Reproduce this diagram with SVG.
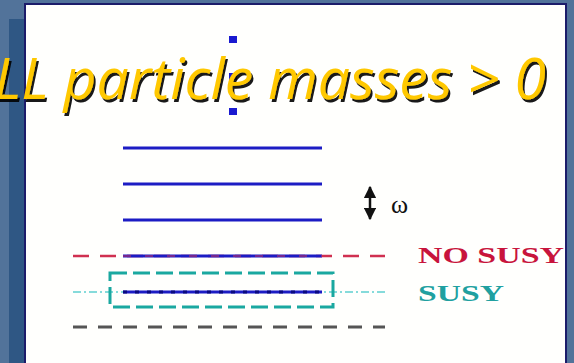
<svg xmlns="http://www.w3.org/2000/svg" width="574" height="363" viewBox="0 0 574 363">
<defs>
<style>
.lvl{stroke:#1c1cc4;stroke-width:3;fill:none}
.title{font-family:"Open Sans","Liberation Sans",sans-serif;font-style:italic;font-size:56px}
.lab{font-family:"Liberation Serif","DejaVu Serif",serif;font-size:23px;font-weight:bold}
.handle{fill:#1a1ad0}
</style>
<filter id="shadow" x="-5%" y="-20%" width="110%" height="150%">
<feDropShadow dx="2" dy="3" stdDeviation="0.6" flood-color="#000" flood-opacity="0.9"/>
</filter>
<marker id="ah" viewBox="0 0 10 10" refX="9" refY="5" markerWidth="5" markerHeight="5" orient="auto-start-reverse">
<path d="M0,0 L10,5 L0,10 z" fill="#111"/>
</marker>
</defs>
<rect x="0" y="0" width="574" height="363" fill="#52739a"/>
<rect x="9" y="19" width="17" height="344" fill="#2f5784"/>
<rect x="25" y="4" width="541" height="362" fill="#fffffd" stroke="#1c1c6a" stroke-width="2"/>
<g id="handles">
<rect class="handle" x="229" y="36" width="8" height="7"/>
<rect class="handle" x="229" y="73" width="8" height="7"/>
<rect class="handle" x="229" y="108" width="8" height="7"/>
</g>
<g id="title">
<text class="title" x="-6" y="99" textLength="552" lengthAdjust="spacingAndGlyphs" fill="#ffc800" filter="url(#shadow)">LL particle masses &gt; 0</text>
</g>
<g id="connectors">
<line class="lvl" x1="123" y1="148" x2="322" y2="148"/>
<line class="lvl" x1="123" y1="184" x2="322" y2="184"/>
<line class="lvl" x1="123" y1="220" x2="322" y2="220"/>
<line x1="73" y1="256" x2="385" y2="256" stroke="#d03050" stroke-width="2.5" stroke-dasharray="16,11"/>
<line class="lvl" x1="123" y1="256" x2="322" y2="256"/>
<line x1="123" y1="256" x2="322" y2="256" stroke="#c83060" stroke-width="1.5" stroke-dasharray="8,14" opacity="0.7"/>
<line x1="73" y1="292" x2="385" y2="292" stroke="#5fd0d0" stroke-width="1.5" stroke-dasharray="8,3,2,3"/>
<line class="lvl" x1="123" y1="292" x2="322" y2="292"/>
<line x1="123" y1="292" x2="322" y2="292" stroke="#0a0a80" stroke-width="3" stroke-dasharray="4,8"/>
<rect x="110" y="273" width="223" height="34" fill="none" stroke="#1aa8a0" stroke-width="3" stroke-dasharray="17,6"/>
<line x1="73" y1="327" x2="385" y2="327" stroke="#555" stroke-width="3" stroke-dasharray="14,11"/>
<line x1="370" y1="187" x2="370" y2="219" stroke="#111" stroke-width="2.5" marker-start="url(#ah)" marker-end="url(#ah)"/>
</g>
<g id="labels">
<text x="391" y="213" font-family="Liberation Serif,serif" font-size="26" fill="#111">ω</text>
<text class="lab" x="418" y="263" fill="#c8143c" textLength="146" lengthAdjust="spacingAndGlyphs">NO SUSY</text>
<text class="lab" x="418" y="301" fill="#20a0a0" textLength="86" lengthAdjust="spacingAndGlyphs">SUSY</text>
</g>
</svg>
